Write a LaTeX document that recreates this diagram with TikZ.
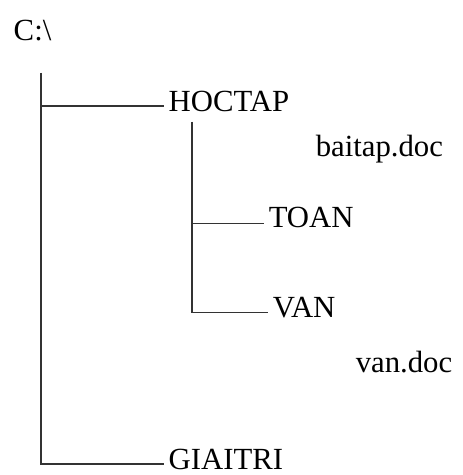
\documentclass[tikz,border=0pt]{standalone}
\usepackage{fontspec}
\setmainfont{Liberation Serif}
\usetikzlibrary{positioning}

\begin{document}
\begin{tikzpicture}[x=0.02cm,y=-0.02cm,
  dir/.style={anchor=base west,inner sep=2.5pt,font=\fontsize{17.5}{20}\selectfont},
  branch/.style={line width=0.9pt,color=black!80}]
\useasboundingbox (0,0) rectangle (462,475);

\node[dir] (root) at (9,41) {C:\textbackslash};
\coordinate (c0) at (41,73);

\node[dir] (hoctap) at (164,112) {HOCTAP};
\node[dir] (baitap) at (311,157) {baitap.doc};
\coordinate (c1) at (192,122);
\node[dir] (toan) at (264,228) {TOAN};
\node[dir] (van) at (268,317) {VAN};
\node[dir] (vandoc) at (351,372) {van.doc};

\node[dir] (giaitri) at (164,469) {GIAITRI};

\draw[branch] (c0) |- ([yshift=3.5pt]hoctap.base west);
\draw[branch] (c0) |- ([yshift=3pt]giaitri.base west);
\draw[branch] (c1) |- ([yshift=2.5pt]toan.base west);
\draw[branch] (c1) |- ([yshift=2.5pt]van.base west);
\end{tikzpicture}
\end{document}
